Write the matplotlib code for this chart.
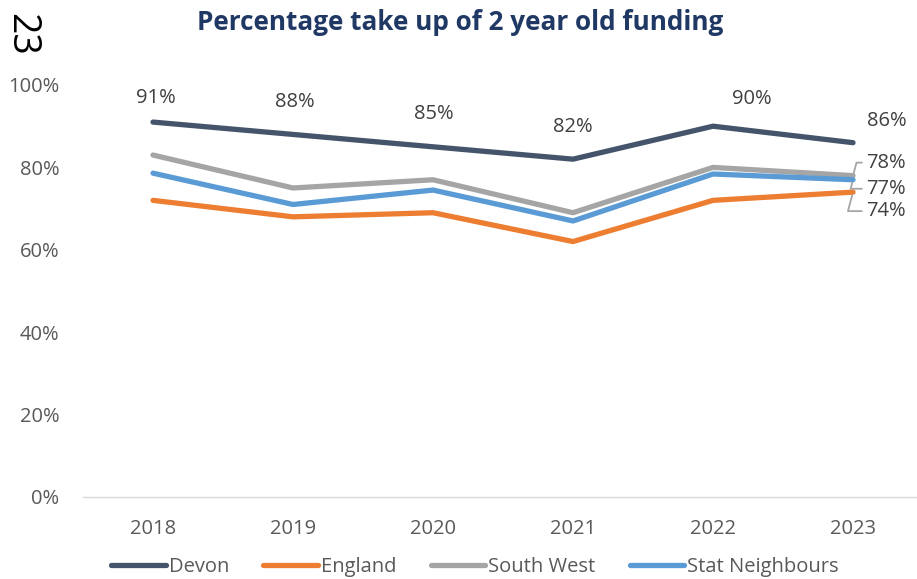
import matplotlib.pyplot as plt

plt.rcParams['font.family'] = ['Open Sans', 'DejaVu Sans']

years = ['2018', '2019', '2020', '2021', '2022', '2023']
devon = [91, 88, 85, 82, 90, 86]
england = [72, 68, 69, 62, 72, 74]
south_west = [83, 75, 77, 69, 80, 78]
stat_neighbours = [78.6, 71, 74.5, 67, 78.4, 77]

series = [
    ('Devon', devon, '#44546A'),
    ('England', england, '#ED7D31'),
    ('South West', south_west, '#A5A5A5'),
    ('Stat Neighbours', stat_neighbours, '#5B9BD5'),
]

# label nudges (pixels) for the Devon values
devon_offsets = [(3, 24), (2, 32), (1, 33), (0, 32), (39, 27), (34, 22)]
# last-point labels with leader lines
end_labels = [(south_west, '78%', (13, 13)),
              (stat_neighbours, '77%', (13, -9)),
              (england, '74%', (13, -19))]

fig = plt.figure(figsize=(9.17, 5.79), dpi=100)
ax = fig.add_axes([83 / 917, 82 / 579, (917 - 83) / 917, 412 / 579])

x = list(range(len(years)))
for name, vals, col in series:
    ax.plot(x, vals, color=col, lw=3.8, solid_capstyle='round',
            solid_joinstyle='round', label=name)

for i, v in enumerate(devon):
    dx, dy = devon_offsets[i]
    ax.annotate(f'{v}%', (x[i], v), xytext=(dx, dy), textcoords='offset pixels',
                ha='center', va='center', fontsize=14.5, color='#404040')

for vals, txt, (dx, dy) in end_labels:
    ax.annotate(txt, (x[-1], vals[-1]), xytext=(dx, dy), textcoords='offset pixels',
                ha='left', va='center', fontsize=14.5, color='#404040',
                arrowprops=dict(arrowstyle='-', color='#A5A5A5', lw=1.3,
                                shrinkA=1, shrinkB=2, relpos=(0, 0.5),
                                connectionstyle='angle,angleA=0,angleB=75,rad=0'))

ax.set_xlim(-0.5, 5.457)
ax.set_ylim(0, 100)
ax.set_xticks(x)
ax.set_xticklabels(years)
ax.set_yticks(range(0, 101, 20))
ax.set_yticklabels([f'{t}%' for t in range(0, 101, 20)])
ax.tick_params(axis='both', length=0, labelsize=14.5, labelcolor='#595959')
ax.tick_params(axis='x', pad=16)
ax.tick_params(axis='y', pad=17)
for s in ['top', 'right', 'left']:
    ax.spines[s].set_visible(False)
ax.spines['bottom'].set_color('#D9D9D9')
ax.spines['bottom'].set_linewidth(1)

fig.text(460 / 917, 1 - 22 / 579, 'Percentage take up of 2 year old funding',
         ha='center', va='center', fontsize=18.8, fontweight='bold', color='#1F3864')
fig.text(2 / 917, 1 - 34 / 579, '23', rotation=-90, ha='left', va='center',
         fontsize=27, color='black')

fig.legend(loc='center', bbox_to_anchor=(475 / 917, 1 - 567 / 579), ncol=4,
           frameon=False, fontsize=14.5, labelcolor='#595959',
           handlelength=2.7, handletextpad=0.15, columnspacing=1.7)

fig.savefig('out.png', dpi=100)
